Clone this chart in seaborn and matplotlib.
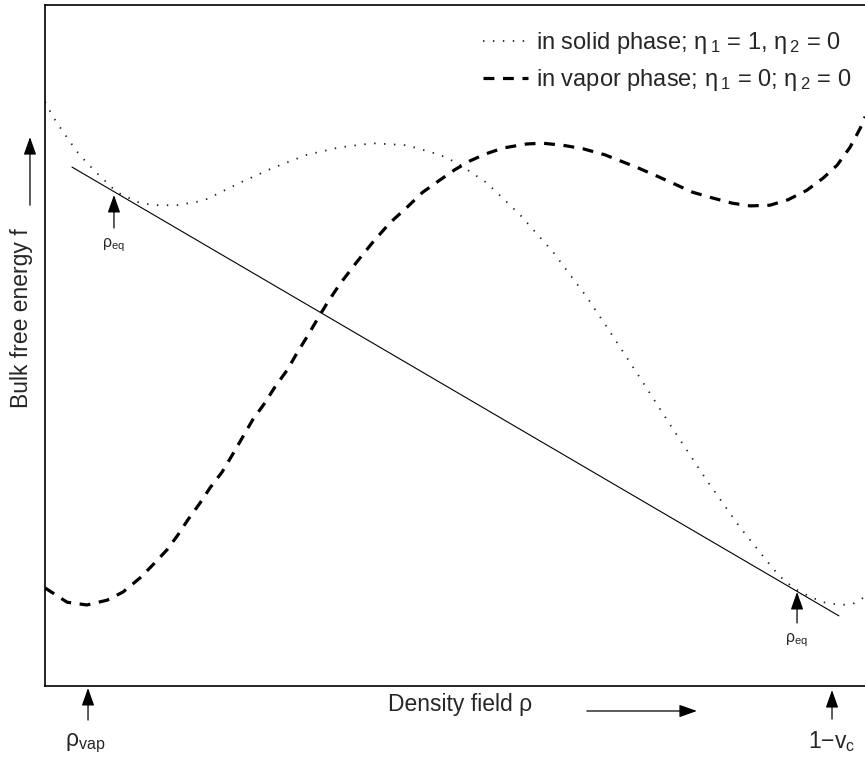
import numpy as np
import pandas as pd
import matplotlib
matplotlib.use("Agg")
import matplotlib.pyplot as plt
import seaborn as sns

# ---- data (density rho, bulk free energy f; arbitrary units) ----
rho_solid = [0.000, 0.0097, 0.0207, 0.0305, 0.0402, 0.0512, 0.0633, 0.0755, 0.0877,
             0.0999, 0.116, 0.136, 0.161, 0.185, 0.197, 0.2375, 0.278, 0.319, 0.359,
             0.3995, 0.441, 0.481, 0.502, 0.538, 0.5785, 0.619, 0.660, 0.691, 0.725,
             0.765, 0.806, 0.8465, 0.887, 0.901, 0.916, 0.932, 0.948, 0.968, 0.983,
             0.999]
f_solid = [0.858, 0.836, 0.816, 0.799, 0.783, 0.768, 0.753, 0.739, 0.725,
           0.718, 0.709, 0.706, 0.706, 0.711, 0.715, 0.739, 0.761, 0.780, 0.791,
           0.797, 0.794, 0.780, 0.768, 0.739, 0.692, 0.637, 0.571, 0.515, 0.452,
           0.377, 0.302, 0.233, 0.172, 0.154, 0.141, 0.131, 0.123, 0.119, 0.120,
           0.131]

rho_vapor = [0.000, 0.027, 0.051, 0.0755, 0.095, 0.116, 0.1315, 0.1486, 0.162, 0.174,
             0.189, 0.201, 0.2156, 0.228, 0.241, 0.253, 0.268, 0.280, 0.295, 0.307,
             0.319, 0.331, 0.3435, 0.359, 0.380, 0.3995, 0.420, 0.441, 0.460, 0.481,
             0.499, 0.5175, 0.536, 0.558, 0.587, 0.6066, 0.631, 0.655, 0.682, 0.722,
             0.745, 0.767, 0.789, 0.812, 0.837, 0.859, 0.883, 0.905, 0.928, 0.948,
             0.965, 0.9805, 0.993, 0.999]
f_vapor = [0.144, 0.123, 0.119, 0.126, 0.138, 0.159, 0.178, 0.200, 0.222, 0.244,
           0.269, 0.291, 0.314, 0.339, 0.366, 0.391, 0.416, 0.439, 0.464, 0.489,
           0.5125, 0.537, 0.562, 0.590, 0.623, 0.652, 0.680, 0.703, 0.725, 0.743,
           0.758, 0.771, 0.781, 0.790, 0.796, 0.797, 0.794, 0.789, 0.780, 0.761,
           0.749, 0.737, 0.725, 0.717, 0.709, 0.705, 0.706, 0.714, 0.728, 0.746,
           0.765, 0.791, 0.819, 0.836]

rho_tangent = [0.0329, 0.967]
f_tangent = [0.762, 0.103]

rho_eq = [0.084, 0.916]
f_eq = [0.721, 0.138]
rho_vap_mark = 0.0524
rho_c_mark = 0.9586

labels = ["in solid phase; η$\\,_{1}$ = 1, η$\\,_{2}$ = 0",
          "in vapor phase; η$\\,_{1}$ = 0; η$\\,_{2}$ = 0"]

# ---- style ----
sns.set_theme(style="white")
plt.rcParams["font.family"] = ["Liberation Sans", "DejaVu Sans"]
plt.rcParams["mathtext.fontset"] = "custom"
plt.rcParams["mathtext.rm"] = "Liberation Sans"
plt.rcParams["mathtext.it"] = "Liberation Sans:italic"
plt.rcParams["mathtext.bf"] = "Liberation Sans:bold"

fig = plt.figure(figsize=(8.65, 7.67), dpi=100)
ax = fig.add_axes([45 / 865, (767 - 686) / 767, 821 / 865, 681 / 767])

df_s = pd.DataFrame({"rho": rho_solid, "f": f_solid})
df_v = pd.DataFrame({"rho": rho_vapor, "f": f_vapor})
df_t = pd.DataFrame({"rho": rho_tangent, "f": f_tangent})

sns.lineplot(data=df_s, x="rho", y="f", ax=ax, color="#222222", lw=1.3,
             linestyle=(0, (0.8, 4.7)), label=labels[0], sort=False)
sns.lineplot(data=df_v, x="rho", y="f", ax=ax, color="black", lw=2.3,
             linestyle=(0, (3.4, 2.7)), label=labels[1], sort=False)
sns.lineplot(data=df_t, x="rho", y="f", ax=ax, color="black", lw=0.8, sort=False)

ax.set_xlim(0, 1)
ax.set_ylim(0, 1)
ax.set_xticks([])
ax.set_yticks([])
for side in ["left", "bottom", "top"]:
    ax.spines[side].set_color("black")
    ax.spines[side].set_linewidth(1.2)
ax.spines["right"].set_visible(False)

fs = 16.5
ax.set_xlabel("Density field ρ", fontsize=fs)
ax.xaxis.set_label_coords((460 - 45) / 821, (686 - 705) / 681)
ax.xaxis.label.set_va("center")
ax.set_ylabel("Bulk free energy f", fontsize=fs)
ax.yaxis.set_label_coords((22 - 45) / 821, (686 - 318) / 681)
ax.yaxis.label.set_va("center")

leg = ax.legend(loc="upper right", bbox_to_anchor=(0.982, 0.963), frameon=False,
                fontsize=17, handlelength=1.9, handletextpad=0.35,
                labelspacing=0.45, borderpad=0, borderaxespad=0)

arrow_big = dict(arrowstyle="-|>,head_length=0.9,head_width=0.32", color="black",
                 lw=0.9, shrinkA=0, shrinkB=0)

# axis direction arrows
ax.annotate("", xy=(-0.0183, 0.806), xytext=(-0.0183, 0.706), xycoords="axes fraction",
            arrowprops=arrow_big, annotation_clip=False)
ax.annotate("", xy=(0.794, -0.0367), xytext=(0.660, -0.0367), xycoords="axes fraction",
            arrowprops=arrow_big, annotation_clip=False)

# markers below the axis
ax.annotate("", xy=(rho_vap_mark, -0.003), xytext=(rho_vap_mark, -0.050),
            xycoords="axes fraction", arrowprops=arrow_big, annotation_clip=False)
ax.annotate("", xy=(rho_c_mark, -0.006), xytext=(rho_c_mark, -0.0485),
            xycoords="axes fraction", arrowprops=arrow_big, annotation_clip=False)
ax.text(rho_vap_mark - 0.003, -0.0837, "ρ$_{\\rm vap}$", fontsize=fs,
        ha="center", va="center", transform=ax.transAxes, clip_on=False)
ax.text(rho_c_mark, -0.0822, "1−v$_{\\rm c}$", fontsize=fs,
        ha="center", va="center", transform=ax.transAxes, clip_on=False)

# equilibrium density markers
dy = [0.0485, 0.0455]
for xr, yr, d in zip(rho_eq, f_eq, dy):
    ax.annotate("", xy=(xr, yr), xytext=(xr, yr - d), xycoords="data",
                arrowprops=arrow_big)
    ax.text(xr - 0.001, yr - d - 0.025, "ρ$_{\\rm eq}$", fontsize=11.5,
            ha="center", va="center")

fig.savefig("out.png", dpi=100)
